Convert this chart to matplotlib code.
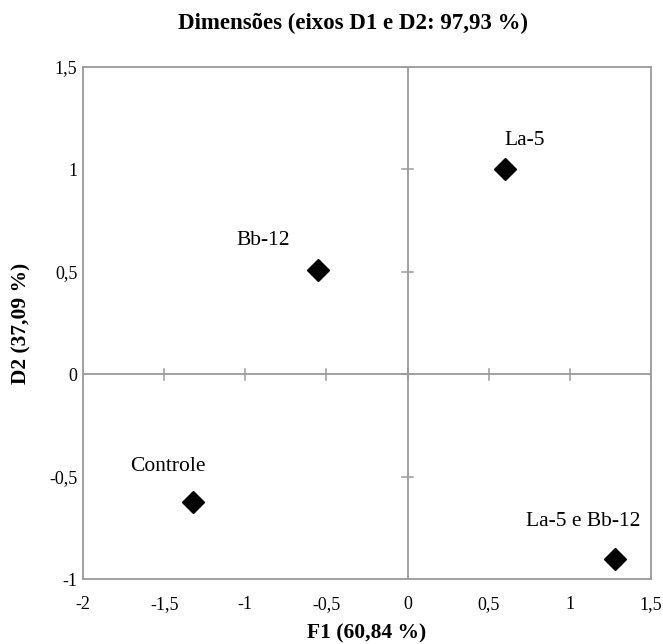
import matplotlib.pyplot as plt

plt.rcParams['font.family'] = ['Liberation Serif', 'DejaVu Serif']

# data
names = ['La-5', 'Bb-12', 'Controle', 'La-5 e Bb-12']
f1 = [0.60, -0.55, -1.32, 1.28]
d2 = [1.00, 0.51, -0.625, -0.90]
# label offsets (points) relative to each marker
offs = [(14, 21), (-40, 21), (-18, 26), (-23, 27)]

xticks = [-2, -1.5, -1, -0.5, 0, 0.5, 1, 1.5]
yticks = [-1, -0.5, 0, 0.5, 1, 1.5]

def fmt(v):
    return ('%g' % v).replace('.', ',')

fig = plt.figure(figsize=(6.63, 6.44), dpi=100)
ax = fig.add_axes([0.1252, 0.1009, 0.8568, 0.7951])

grey = '#9a9a9a'
ax.set_xlim(-2, 1.5)
ax.set_ylim(-1, 1.5)
ax.set_xticks(xticks)
ax.set_yticks(yticks)
ax.set_xticklabels([fmt(v) for v in xticks], fontsize=13)
ax.set_yticklabels([fmt(v) for v in yticks], fontsize=13)
ax.tick_params(axis='x', length=0, pad=12)
ax.tick_params(axis='y', length=0, pad=4)
for s in ax.spines.values():
    s.set_color(grey)
    s.set_linewidth(1.3)

# central axes with small cross ticks
ax.axvline(0, color=grey, lw=1.3, zorder=1)
ax.axhline(0, color=grey, lw=1.3, zorder=1)
dx = 0.034
dy = 0.027
for t in xticks:
    ax.plot([t, t], [-dy, dy], color=grey, lw=1.1, zorder=1)
for t in yticks:
    ax.plot([-dx, dx], [t, t], color=grey, lw=1.1, zorder=1)

ax.plot(f1, d2, 'D', color='black', markersize=11, zorder=3, linestyle='none')
for n, x, y, o in zip(names, f1, d2, offs):
    ax.annotate(n, (x, y), xytext=o, textcoords='offset points',
                ha='center', va='center', fontsize=15.5,
                family=['Liberation Serif', 'DejaVu Serif'])

ax.set_xlabel('F1 (60,84 %)', fontsize=15.5, fontweight='bold', labelpad=8)
ax.set_ylabel('D2 (37,09 %)', fontsize=15.5, fontweight='bold', labelpad=13)
ax.set_title('Dimensões (eixos D1 e D2: 97,93 %)', fontsize=16.5,
             fontweight='bold', pad=27, x=0.475)

fig.savefig('out.png', dpi=100)
